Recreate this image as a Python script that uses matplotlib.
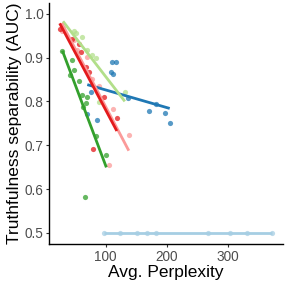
import numpy as np
import matplotlib
matplotlib.use("Agg")
import matplotlib.pyplot as plt

plt.rcParams['font.family'] = ['Liberation Sans', 'DejaVu Sans']

# Paired palette, one colour per group
group_colors = ['#A6CEE3', '#1F78B4', '#B2DF8A', '#33A02C', '#FB9A99', '#E31A1C']

# avg perplexity / AUC per group
ppl_lightblue = [98, 124, 152, 167, 183, 267, 303, 331, 372]
auc_lightblue = [0.5, 0.5, 0.5, 0.5, 0.5, 0.5, 0.5, 0.5, 0.5]

ppl_blue = [110.9, 117.4, 108.1, 111.9, 76.7, 70.2, 85.4, 136.9, 170.4, 182.9, 196.4, 204.6]
auc_blue = [0.891, 0.889, 0.867, 0.863, 0.822, 0.771, 0.758, 0.809, 0.779, 0.795, 0.773, 0.750]

ppl_lightgreen = [30.6, 48.5, 52.4, 61.0, 70.2, 78.4, 83.7, 89.1, 131.4]
auc_lightgreen = [0.968, 0.961, 0.957, 0.947, 0.917, 0.906, 0.900, 0.799, 0.821]

ppl_green = [29.6, 44.7, 48.5, 42.0, 56.6, 61.0, 69.1, 68.6, 63.1, 84.6, 101.3, 66.3]
auc_green = [0.915, 0.895, 0.872, 0.860, 0.847, 0.815, 0.811, 0.796, 0.788, 0.721, 0.678, 0.581]

ppl_pink = [28.5, 48.5, 54.0, 69.1, 78.4, 89.1, 112.5, 137.9, 105.4]
auc_pink = [0.961, 0.940, 0.917, 0.902, 0.852, 0.835, 0.783, 0.723, 0.654]

ppl_red = [25.2, 44.7, 56.6, 59.3, 67.5, 72.8, 97.2, 118.4, 80.0]
auc_red = [0.966, 0.943, 0.932, 0.913, 0.879, 0.867, 0.811, 0.762, 0.691]

groups = [
    (ppl_lightblue, auc_lightblue),
    (ppl_blue, auc_blue),
    (ppl_lightgreen, auc_lightgreen),
    (ppl_green, auc_green),
    (ppl_pink, auc_pink),
    (ppl_red, auc_red),
]

fig = plt.figure(figsize=(2.87, 2.87), dpi=100)
ax = fig.add_axes([0.171, 0.150, 0.815, 0.840])

# points first, then fitted lines on top (ggplot layer order)
for (x, y), c in zip(groups, group_colors):
    ax.scatter(x, y, s=14, color=c, alpha=0.75, linewidths=0, zorder=2)

for (x, y), c in zip(groups, group_colors):
    x = np.asarray(x, dtype=float)
    y = np.asarray(y, dtype=float)
    slope, icpt = np.polyfit(x, y, 1)
    xs = np.array([x.min(), x.max()])
    ax.plot(xs, icpt + slope * xs, color=c, lw=2.0, solid_capstyle='butt', zorder=3)

ax.set_xlim(7.9, 389.3)
ax.set_ylim(0.475, 1.025)
ax.set_xticks([100, 200, 300])
ax.set_yticks([0.5, 0.6, 0.7, 0.8, 0.9, 1.0])
ax.set_yticklabels(['0.5', '0.6', '0.7', '0.8', '0.9', '1.0'])

for side in ['top', 'right']:
    ax.spines[side].set_visible(False)
for side in ['left', 'bottom']:
    ax.spines[side].set_color('black')
    ax.spines[side].set_linewidth(1.0)

ax.tick_params(axis='both', length=2.5, width=0.8, color='#333333',
               labelsize=9.8, labelcolor='#4d4d4d', pad=1.5)

ax.set_xlabel('Avg. Perplexity', fontsize=12.5, labelpad=1)
ax.set_ylabel('Truthfulness separability (AUC)', fontsize=12.5, labelpad=2)

fig.savefig('out.png', dpi=100)
